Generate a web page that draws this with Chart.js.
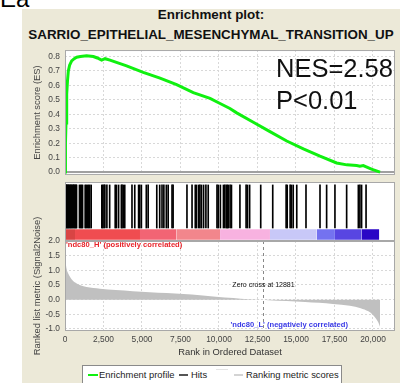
<!DOCTYPE html>
<html>
<head>
<meta charset="utf-8">
<script src="https://cdn.jsdelivr.net/npm/chart.js@4.4.1/dist/chart.umd.min.js"></script>
<style>
  html, body { margin: 0; padding: 0; background: #fff; width: 412px; height: 383px; overflow: hidden;
    font-family: "Liberation Sans", Arial, sans-serif; }
  .abs { position: absolute; white-space: nowrap; }
  #panel { left: 22px; top: 9px; width: 378px; height: 374px; background: #ece9d8; }
  #corner { left: 0; top: -13px; font-size: 24px; line-height: 24px; color: #000; }
  #title { left: 22px; top: 5px; width: 378px; text-align: center; font-weight: bold; font-size: 13.4px; line-height: 20px; color: #111; }
  #stats { left: 276px; top: 52px; font-size: 25.5px; line-height: 32px; color: #111; }
  canvas { position: absolute; left: 0; }
  #legend { left: 82px; top: 365px; width: 258px; height: 22px; background: #fff; border: 1px solid #8a8a8a; font-size: 9.4px; color: #222; }
  .sw { position: absolute; height: 2px; }
  .lt { position: absolute; top: 3px; line-height: 12px; }
</style>
</head>
<body>
<div id="panel" class="abs"></div>
<div id="corner" class="abs">Ea</div>
<div id="title" class="abs">Enrichment plot:<br>SARRIO_EPITHELIAL_MESENCHYMAL_TRANSITION_UP</div>
<canvas id="es" width="412" height="145" style="top:40px"></canvas>
<canvas id="hits" width="412" height="59" style="top:182px"></canvas>
<canvas id="metric" width="412" height="162" style="top:200px"></canvas>
<div id="stats" class="abs">NES=2.58<br>P&lt;0.01</div>
<div id="legend" class="abs">
  <span class="sw" style="left:5px; top:8px; width:10px; background:#10f010"></span>
  <span class="lt" style="left:16px">Enrichment profile</span>
  <span class="sw" style="left:96px; top:8px; width:9px; background:#555"></span>
  <span class="lt" style="left:108px">Hits</span>
  <span class="sw" style="left:133px; top:3px; width:12px; height:1px; background:#e4e4e4"></span>
  <span class="sw" style="left:151px; top:8px; width:9px; background:#d4d4d4"></span>
  <span class="lt" style="left:163px">Ranking metric scores</span>
</div>
<script>
// ranks on the x axis
const X_MAX = 21430;
const X_TICKS = [0, 2500, 5000, 7500, 10000, 12500, 15000, 17500, 20000];
const ES_TICKS = [0, 0.1, 0.2, 0.3, 0.4, 0.5, 0.6, 0.7, 0.8];
const METRIC_TICKS = [-1, -0.5, 0, 0.5, 1, 1.5, 2];

// running enrichment score
const ES_RANK = [0, 30, 65, 110, 160, 216, 300, 433, 600, 757, 1000, 1400, 1840, 2100, 2380, 2600, 2920,
  4000, 5080, 6170, 7250, 8330, 9420, 10070, 10710, 11150, 12230, 13310, 14400, 15480, 16560, 17640,
  18300, 18940, 19150, 19370, 19900, 20460];
const ES_VALUE = [0, 0.2, 0.34, 0.54, 0.63, 0.70, 0.74, 0.77, 0.785, 0.795, 0.80, 0.806, 0.80, 0.79, 0.775, 0.785, 0.775,
  0.735, 0.69, 0.65, 0.605, 0.55, 0.51, 0.475, 0.44, 0.41, 0.345, 0.28, 0.215, 0.16, 0.11, 0.063,
  0.05, 0.045, 0.04, 0.045, 0.02, 0];

// positions of gene set members in the ranked list
const HIT_RANKS = [5, 30, 60, 95, 130, 170, 210, 250, 300, 340, 390, 430, 480, 530, 580, 620, 670, 720, 750,
  940, 1010, 1080, 1140, 1310, 1380, 1460, 1530, 1600, 1700, 2390, 2450, 2530, 2590, 2720, 2900,
  3260, 3340, 3480, 3660, 3700, 3780, 3880, 4350, 4530, 4780, 4850, 4960, 5280, 5400, 5960, 6150,
  6300, 6420, 6580, 6700, 6950, 7020, 7920, 8250, 8460, 8540, 8680, 8760, 8860, 9000, 9150, 9300,
  9870, 9950, 10090, 10290, 10380, 10480, 10540, 10600, 10720, 10810, 11360, 11760, 11850, 11990,
  12710, 13490, 14360, 14430, 14620, 14700, 14820, 15050, 15650, 16560, 16990, 17530, 18290,
  19050, 19150, 19260, 19550];

// colour bar under the hits
const BAND_EDGES = [0, 650, 4870, 7250, 10070, 13310, 16350, 17530, 19270, 20410];
const BAND_COLORS = ['#d84444', '#f04c50', '#f26474', '#f2868c', '#f8b2e0', '#c8c8f8', '#7472f0', '#5846e2', '#2a06c6'];

// ranked list metric (signal2noise)
const METRIC_RANK = [0, 40, 100, 200, 330, 500, 760, 1000, 1400, 2270, 3300, 4400, 5500, 6600, 7700, 8770,
  9800, 10930, 11900, 12881, 13200, 14400, 15590, 16500, 17400, 18500, 19200, 19700, 20000, 20200, 20350, 20460];
const METRIC_VALUE = [1.55, 1.3, 1.06, 0.9, 0.77, 0.65, 0.55, 0.49, 0.43, 0.375, 0.33, 0.29, 0.255, 0.225, 0.19, 0.15,
  0.1, 0.055, 0.01, 0, -0.02, -0.05, -0.08, -0.11, -0.15, -0.21, -0.29, -0.4, -0.52, -0.65, -0.78, -0.93];
const ZERO_CROSS = 12881;

Chart.defaults.font.family = '"Liberation Sans", Arial, sans-serif';
const GRID = '#d8d8d8';
const INK = '#444';

function xScale(extra) {
  return Object.assign({
    type: 'linear', min: 0, max: X_MAX, offset: false,
    afterBuildTicks: s => { s.ticks = X_TICKS.map(v => ({ value: v })); },
    grid: { color: GRID, drawTicks: false, offset: false },
    border: { display: false, dash: [2, 2] },
    ticks: { display: false }
  }, extra);
}

function yScale(min, max, ticks, title) {
  return {
    min: min, max: max,
    afterBuildTicks: s => { s.ticks = ticks.map(v => ({ value: v })); },
    afterFit: s => { s.width = 33; },
    grid: { color: GRID, drawTicks: false },
    border: { display: false, dash: [2, 2] },
    ticks: { padding: 5, color: INK, font: { size: 8.4 }, callback: v => v.toFixed(1) },
    title: { display: true, text: title, color: INK, font: { size: 9.4 }, padding: 0 }
  };
}

// white plot background and grey frame
const framePlugin = {
  id: 'frame',
  beforeDraw(chart) {
    const a = chart.chartArea, c = chart.ctx;
    c.save();
    c.fillStyle = '#fff';
    c.fillRect(a.left, a.top, a.width, a.height);
    c.restore();
  },
  afterDraw(chart) {
    const a = chart.chartArea, c = chart.ctx;
    c.save();
    c.strokeStyle = '#a8a8a8';
    c.lineWidth = 1;
    c.strokeRect(a.left + 0.5, a.top + 0.5, a.width - 1, a.height - 1);
    c.restore();
  }
};

const common = {
  responsive: false, animation: false, devicePixelRatio: 1,
  plugins: { legend: { display: false }, tooltip: { enabled: false } }
};

// --- enrichment score
new Chart(document.getElementById('es'), {
  type: 'line',
  data: { datasets: [{
    data: ES_RANK.map((r, i) => ({ x: r, y: ES_VALUE[i] })),
    borderColor: '#10f010', borderWidth: 3, pointRadius: 0, tension: 0
  }] },
  options: Object.assign({}, common, {
    layout: { padding: { left: 32, right: 17, top: 7, bottom: 5 } },
    scales: {
      x: xScale({ afterFit: s => { s.height = 0; } }),
      y: yScale(-0.02, 0.845, ES_TICKS, 'Enrichment score (ES)')
    }
  }),
  plugins: [framePlugin, {
    id: 'zeroLine',
    beforeDatasetsDraw(chart) {
      const a = chart.chartArea, c = chart.ctx, y = Math.round(chart.scales.y.getPixelForValue(0));
      c.save();
      c.strokeStyle = '#a0a0a0';
      c.lineWidth = 2;
      c.beginPath(); c.moveTo(a.left, y); c.lineTo(a.right, y); c.stroke();
      c.restore();
    }
  }]
});

// --- hits and colour bar
new Chart(document.getElementById('hits'), {
  type: 'bar',
  data: { datasets: [
    { type: 'bar', data: HIT_RANKS.map(r => ({ x: r, y: [0.22, 0.95] })), backgroundColor: '#000',
      barThickness: 1, borderWidth: 0, grouped: false },
    ...BAND_COLORS.map((col, i) => ({
      type: 'line',
      data: [{ x: BAND_EDGES[i], y: 0.2 }, { x: BAND_EDGES[i + 1], y: 0.2 }],
      borderColor: 'rgba(0,0,0,0)', borderWidth: 0, pointRadius: 0,
      fill: { value: 0.02 }, backgroundColor: col
    }))
  ] },
  options: Object.assign({}, common, {
    layout: { padding: { left: 65, right: 17, top: 0, bottom: 0 } },
    scales: {
      x: xScale({ display: false }),
      y: { display: false, min: 0, max: 1 }
    }
  }),
  plugins: [framePlugin]
});

// --- ranked list metric
new Chart(document.getElementById('metric'), {
  type: 'line',
  data: { datasets: [{
    data: METRIC_RANK.map((r, i) => ({ x: r, y: METRIC_VALUE[i] })),
    borderColor: 'rgba(0,0,0,0)', borderWidth: 0, pointRadius: 0,
    fill: 'origin', backgroundColor: '#c0c0c0', cubicInterpolationMode: 'monotone'
  }] },
  options: Object.assign({}, common, {
    layout: { padding: { left: 32, right: 17, top: 41, bottom: 0 } },
    scales: {
      x: xScale({
        afterFit: s => { s.height = 31; },
        ticks: { display: true, padding: 4, color: INK, font: { size: 8.4 }, autoSkip: false, maxRotation: 0,
          callback: v => v.toLocaleString('en-US') },
        title: { display: true, text: 'Rank in Ordered Dataset', color: '#333', font: { size: 9.4 },
          padding: { top: 0, bottom: 4 } }
      }),
      y: yScale(-1.07, 2.0, METRIC_TICKS, 'Ranked list metric (Signal2Noise)')
    }
  }),
  plugins: [framePlugin, {
    id: 'notes',
    afterDatasetsDraw(chart) {
      const a = chart.chartArea, c = chart.ctx, xs = chart.scales.x, ys = chart.scales.y;
      const zx = Math.round(xs.getPixelForValue(ZERO_CROSS)) + 0.5;
      c.save();
      c.strokeStyle = '#888';
      c.lineWidth = 1;
      c.setLineDash([3, 3]);
      c.beginPath(); c.moveTo(zx, a.top); c.lineTo(zx, a.bottom); c.stroke();
      c.setLineDash([]);
      c.textBaseline = 'middle';
      c.font = '7px "Liberation Sans", Arial, sans-serif';
      c.fillStyle = '#111';
      c.textAlign = 'center';
      c.fillText('Zero cross at ' + ZERO_CROSS, zx, ys.getPixelForValue(0.5));
      c.font = 'bold 7.6px "Liberation Sans", Arial, sans-serif';
      c.fillStyle = '#e8242a';
      c.textAlign = 'left';
      c.fillText("'ndc80_H' (positively correlated)", a.left + 1, ys.getPixelForValue(1.88));
      c.fillStyle = '#3a3ae6';
      c.textAlign = 'right';
      c.fillText("'ndc80_L' (negatively correlated)", a.right - 47, ys.getPixelForValue(-0.85));
      c.restore();
    }
  }]
});
</script>
</body>
</html>
